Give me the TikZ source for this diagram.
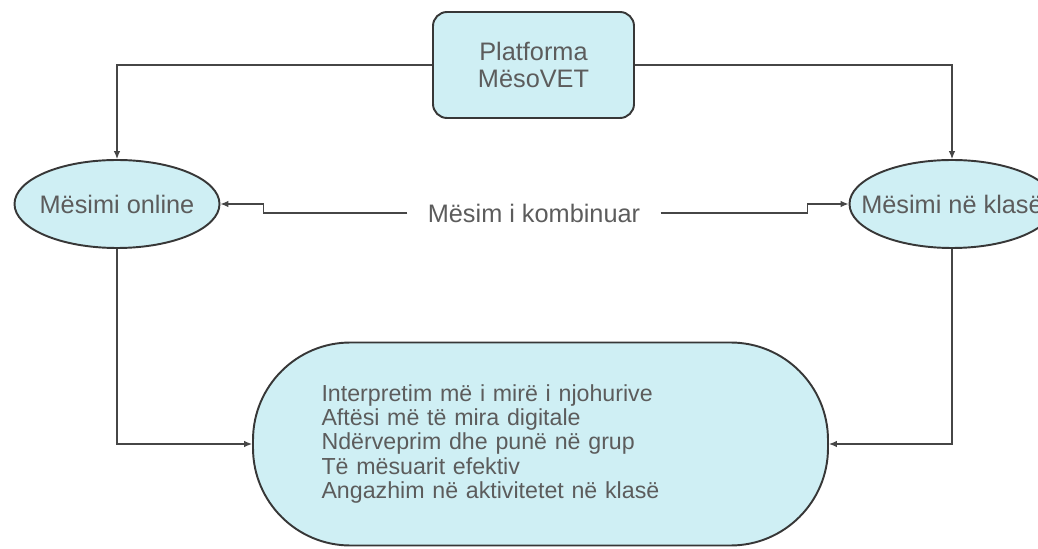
\documentclass[tikz,border=0pt]{standalone}
\usepackage{fontspec}
\setmainfont{Liberation Sans}
\usetikzlibrary{shapes.geometric,arrows.meta,positioning}

\begin{document}
\begin{tikzpicture}[every node/.style={font=\fontsize{14.4}{15}\selectfont, text=mvgray},
    blob/.style={draw=mvline, line width=1.1pt, fill=mvcyan},
    oval/.style={blob, ellipse, minimum width=4.1cm, minimum height=1.76cm, inner sep=0pt},
    conn/.style={-{Latex[length=1.6mm,width=1.3mm]}, draw=mvwire, line width=0.6pt}]
        \definecolor{mvcyan}{RGB}{207,239,244}
        \definecolor{mvline}{RGB}{55,55,55}
        \definecolor{mvwire}{RGB}{70,70,70}
        \definecolor{mvgray}{RGB}{92,92,92}
        \useasboundingbox (0,0) rectangle (20.76,-10.98);

        % Platform on top, two ways of learning on the sides, outcomes below

        % Platforma MesoVET
        \node[blob, rounded corners=8pt, minimum width=4.02cm, minimum height=2.12cm, align=center]
              (platform) at (10.67,-1.30) {Platforma\\MësoVET};

        % Learning online / in class (text kept from widening the ovals)
        \node[oval] (online) at (2.34,-4.08) {\makebox[0pt]{Mësimi online}};
        \node[oval] (classroom) at (19.04,-4.08) {\makebox[0pt]{Mësimi në klasë}};

        % Blended learning label in the middle
        \node[inner xsep=0.4cm] (blended) at (10.68,-4.26) {Mësim i kombinuar};

        % Outcomes
        \node[blob, rounded corners=1.95cm, minimum width=11.5cm, minimum height=4.06cm, align=left, text width=8.76cm,
              font=\fontsize{13.2}{13.9}\selectfont]
              (outcomes) at (10.81,-8.88) {Interpretim më i mirë i njohurive\\Aftësi më të mira digitale\\Ndërveprim dhe punë në grup\\Të mësuarit efektiv\\Angazhim në aktivitetet në klasë};

        % Arrows
        \draw[conn] (platform.west) -| (online.north);
        \draw[conn] (platform.east) -| (classroom.north);
        \draw[conn] (blended.west) -- ++(-2.88,0) |- (online.east);
        \draw[conn] (blended.east) -- ++(2.93,0) |- (classroom.west);
        % Down to the outcomes
        \draw[conn] (online.south) |- (outcomes.west);
        \draw[conn] (classroom.south) |- (outcomes.east);
    \end{tikzpicture}
\end{document}
